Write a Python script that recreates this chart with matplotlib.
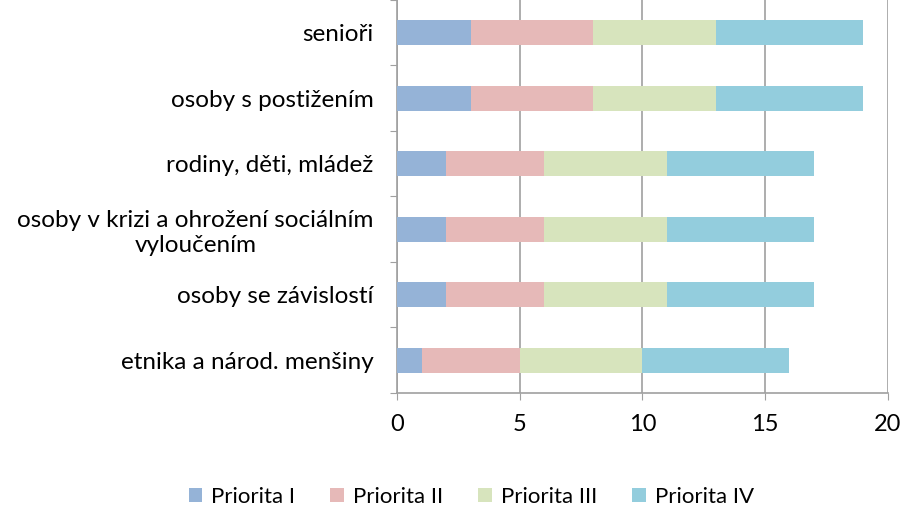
import matplotlib.pyplot as plt
import numpy as np

plt.rcParams['font.family'] = ['Lato', 'DejaVu Sans']

# kategorie odspodu nahoru
categories = ["etnika a národ. menšiny", "osoby se závislostí",
              "osoby v krizi a ohrožení sociálním\nvyloučením",
              "rodiny, děti, mládež", "osoby s postižením", "senioři"]
series_names = ["Priorita I", "Priorita II", "Priorita III", "Priorita IV"]
p1 = [1, 2, 2, 2, 3, 3]
p2 = [4, 4, 4, 4, 5, 5]
p3 = [5, 5, 5, 5, 5, 5]
p4 = [6, 6, 6, 6, 6, 6]
colors = ["#95B3D7", "#E6B9B8", "#D7E4BD", "#93CDDD"]

fig = plt.figure(figsize=(9.15, 5.15), dpi=100)
ax = fig.add_axes([0.434, 0.237, 0.536, 0.763])

y = np.arange(len(categories))
left = np.zeros(len(categories))
for vals, name, c in zip([p1, p2, p3, p4], series_names, colors):
    ax.barh(y, vals, left=left, height=0.38, color=c, label=name, zorder=3)
    left += np.array(vals)

ax.set_xlim(0, 20)
ax.set_ylim(-0.5, len(categories) - 0.5)
ax.set_xticks([0, 5, 10, 15, 20])
ax.tick_params(axis='x', labelsize=17, length=5, color='#A0A0A0', pad=10)
ax.xaxis.grid(True, color='#A0A0A0', linewidth=1.2, zorder=0)

# carky mezi kategoriemi, popisky uprostred
ax.set_yticks(np.arange(len(categories) + 1) - 0.5)
ax.set_yticklabels([])
ax.tick_params(axis='y', which='major', length=5, color='#A0A0A0')
ax.set_yticks(y, minor=True)
ax.set_yticklabels(categories, minor=True, fontsize=17.5, multialignment='center')
ax.tick_params(axis='y', which='minor', length=0, pad=17)

for s in ['top', 'right']:
    ax.spines[s].set_visible(False)
for s in ['left', 'bottom']:
    ax.spines[s].set_color('#A0A0A0')
    ax.spines[s].set_linewidth(1.2)

fig.legend(loc='center', bbox_to_anchor=(0.515, 0.035), ncol=4, frameon=False,
           fontsize=16, handlelength=0.6, handleheight=0.6, columnspacing=1.6,
           handletextpad=0.4)

fig.savefig("out.png", dpi=100)
